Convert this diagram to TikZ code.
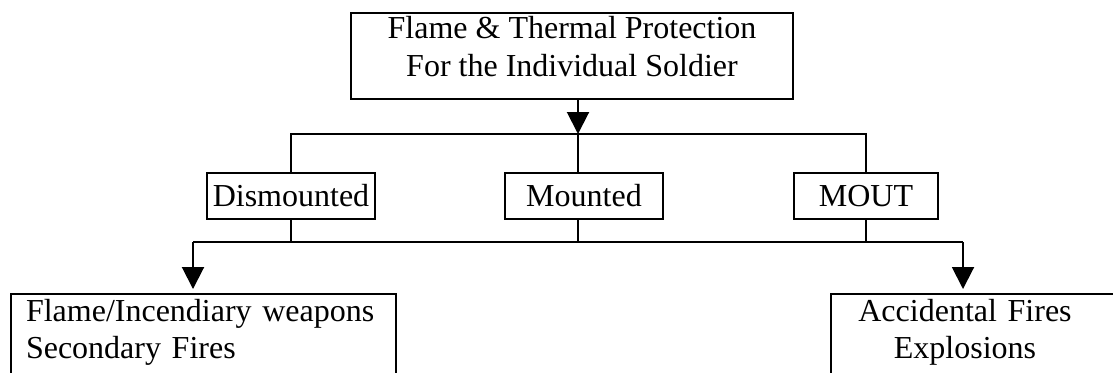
\documentclass[tikz,border=0pt]{standalone}
\usepackage{fontspec}
\setmainfont{Liberation Serif}
\usetikzlibrary{arrows.meta}

\begin{document}
\begin{tikzpicture}[x=0.5pt, y=-0.5pt, line width=1pt, box/.style={draw, line width=1pt, inner sep=0pt, font=\fontsize{16}{19}\selectfont}, link/.style={-{Triangle[width=11pt,length=11pt]}}, txt/.style={inner sep=0pt, font=\fontsize{16}{18.5}\selectfont}]
			\useasboundingbox (0,0) rectangle (1113,372);
			\clip (0,0) rectangle (1113,372);
			\node[box, anchor=north, minimum width=221pt, inner ysep=1.5pt, text height=30pt, text depth=10pt, align=center] (top) at (572,12) {Flame \& Thermal Protection\\For the Individual Soldier};
			\node[box, minimum width=84pt, minimum height=23pt, text height=11pt, text depth=1pt] (dism) at (291,196) {Dismounted};
			\node[box, minimum width=79pt, minimum height=23pt, text height=11pt, text depth=1pt] (mount) at (584,196) {Mounted};
			\node[box, minimum width=72pt, minimum height=23pt, text height=11pt, text depth=1pt] (mout) at (866,196) {MOUT};
			\node[box, txt, draw, anchor=north west, inner xsep=7.5pt, inner ysep=0.5pt, text width=177.5pt, text height=13pt, text depth=60pt, align=left] (weapons) at (10,293) {Flame/Incendiary weapons\\Secondary Fires};
			\node[box, anchor=north west, minimum width=160pt, minimum height=80pt] (accid) at (830,293) {};
			\node[txt, anchor=north, inner ysep=0.5pt, text width=135pt, text height=13pt, align=center] (accidtext) at (965,293) {Accidental Fires\\Explosions};
			\coordinate (split) at (578,134);
			\coordinate (join) at (578,242);
			\coordinate (left2) at (193,242);
			\coordinate (right2) at (963,242);
			\draw[link] (top.south -| split) -- (split);
			\draw (dism.north) |- (split) -| (mout.north);
			\draw (split) -- (mount.north -| split);
			\draw (dism.south) -- (dism.south |- join);
			\draw (mount.south -| join) -- (join);
			\draw (mout.south) -- (mout.south |- join);
			\draw (left2) -- (right2);
			\draw[link, shorten >=2pt] (left2) -- (left2 |- weapons.north);
			\draw[link, shorten >=2pt] (right2) -- (right2 |- accid.north);
			\end{tikzpicture}
\end{document}
